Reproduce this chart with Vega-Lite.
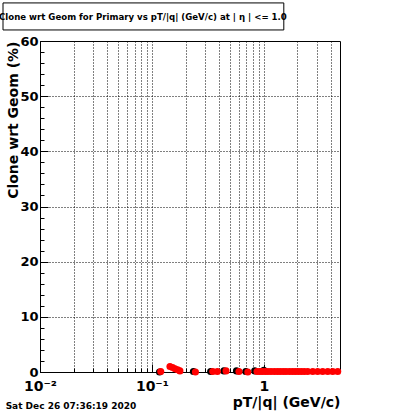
{
  "$schema": "https://vega.github.io/schema/vega-lite/v6.json",
  "width": 300,
  "height": 331,
  "autosize": {"type": "none"},
  "padding": {"left": 40, "top": 41, "right": 60, "bottom": 42},
  "background": "white",
  "config": {
    "view": {"stroke": "black", "strokeWidth": 1},
    "font": "DejaVu Sans",
    "axis": {"domainColor": "black", "tickColor": "black", "labelColor": "black", "titleColor": "black", "labelFont": "DejaVu Sans", "titleFont": "DejaVu Sans"}
  },
  "datasets": {
    "red": [
      {"pt": 0.120, "clone": 0.1},
      {"pt": 0.145, "clone": 1.0},
      {"pt": 0.153, "clone": 0.8},
      {"pt": 0.161, "clone": 0.6},
      {"pt": 0.170, "clone": 0.4},
      {"pt": 0.178, "clone": 0.2},
      {"pt": 0.245, "clone": 0.0},
      {"pt": 0.35, "clone": 0.1},
      {"pt": 0.385, "clone": 0.1},
      {"pt": 0.46, "clone": 0.2},
      {"pt": 0.60, "clone": 0.1},
      {"pt": 0.72, "clone": 0.0},
      {"pt": 0.87, "clone": 0.1},
      {"pt": 0.92, "clone": 0.1},
      {"pt": 0.97, "clone": 0.1},
      {"pt": 1.03, "clone": 0.1},
      {"pt": 1.09, "clone": 0.1},
      {"pt": 1.16, "clone": 0.1},
      {"pt": 1.24, "clone": 0.1},
      {"pt": 1.32, "clone": 0.1},
      {"pt": 1.40, "clone": 0.1},
      {"pt": 1.49, "clone": 0.1},
      {"pt": 1.58, "clone": 0.1},
      {"pt": 1.69, "clone": 0.1},
      {"pt": 1.80, "clone": 0.1},
      {"pt": 1.91, "clone": 0.1},
      {"pt": 2.03, "clone": 0.1},
      {"pt": 2.16, "clone": 0.1},
      {"pt": 2.30, "clone": 0.1},
      {"pt": 2.47, "clone": 0.1},
      {"pt": 2.74, "clone": 0.1},
      {"pt": 3.03, "clone": 0.1},
      {"pt": 3.36, "clone": 0.1},
      {"pt": 3.73, "clone": 0.1},
      {"pt": 4.13, "clone": 0.1},
      {"pt": 4.58, "clone": 0.1}
    ],
    "black": [
      {"pt": 0.117, "clone": 0.0},
      {"pt": 0.235, "clone": 0.1},
      {"pt": 0.335, "clone": 0.1},
      {"pt": 0.44, "clone": 0.2},
      {"pt": 0.57, "clone": 0.2},
      {"pt": 0.69, "clone": 0.1},
      {"pt": 0.83, "clone": 0.2},
      {"pt": 1.0, "clone": 0.3}
    ],
    "stamp": [
      {"label": "Sat Dec 26 07:36:19 2020", "px": 0.00493, "py": -6.2}
    ],
    "heading": [
      {"label": "Clone wrt Geom for Primary vs pT/|q| (GeV/c) at | η | <= 1.0", "px": 0.0831, "py": 64.35}
    ],
    "box": [
      {"x1": 0.00467, "x2": 1.51, "y1": 66.9, "y2": 62.0}
    ]
  },
  "resolve": {"axis": {"x": "independent", "y": "independent"}},
  "layer": [
    {
      "data": {"name": "black"},
      "mark": {"type": "circle", "size": 50, "opacity": 1, "color": "black", "clip": false},
      "encoding": {
        "x": {
          "field": "pt", "type": "quantitative",
          "scale": {"type": "log", "domain": [0.01, 4.8], "nice": false},
          "axis": {
            "orient": "bottom",
            "values": [0.02, 0.03, 0.04, 0.05, 0.06, 0.07, 0.08, 0.09, 0.1, 0.2, 0.3, 0.4, 0.5, 0.6, 0.7, 0.8, 0.9, 1, 2, 3, 4],
            "labels": false, "domain": false, "title": null,
            "grid": true, "gridColor": "black", "gridDash": [1, 2], "gridOpacity": 1, "gridWidth": 1,
            "ticks": true, "tickSize": -4, "tickColor": "black"
          }
        },
        "y": {
          "field": "clone", "type": "quantitative",
          "scale": {"domain": [0, 60], "nice": false},
          "axis": {
            "orient": "left",
            "values": [2, 4, 6, 8, 12, 14, 16, 18, 22, 24, 26, 28, 32, 34, 36, 38, 42, 44, 46, 48, 52, 54, 56, 58],
            "labels": false, "domain": false, "title": null, "grid": false,
            "ticks": true, "tickSize": -4
          }
        }
      }
    },
    {
      "data": {"name": "red"},
      "mark": {"type": "circle", "size": 50, "opacity": 1, "color": "#ff0000", "clip": false},
      "encoding": {
        "x": {
          "field": "pt", "type": "quantitative",
          "axis": {
            "orient": "bottom",
            "values": [0.01, 0.1, 1],
            "labelExpr": "datum.value < 0.05 ? '10⁻²' : datum.value < 0.5 ? '10⁻¹' : '1'",
            "labelFontSize": 14, "labelFontWeight": "bold", "labelPadding": 15,
            "labelFlush": false,
            "grid": false, "ticks": true, "tickSize": -8,
            "domain": true, "domainColor": "black",
            "title": "pT/|q| (GeV/c)", "titleFontSize": 14, "titleFontWeight": "bold",
            "titleAnchor": "end", "titleAlign": "right", "titleBaseline": "alphabetic", "titleY": 34, "titleX": 300
          }
        },
        "y": {
          "field": "clone", "type": "quantitative",
          "axis": {
            "orient": "left",
            "values": [0, 10, 20, 30, 40, 50, 60],
            "labelFontSize": 13, "labelFontWeight": "bold", "labelPadding": 10,
            "labelFlush": false,
            "grid": true, "gridColor": "black", "gridDash": [1, 2], "gridOpacity": 1,
            "ticks": true, "tickSize": -8,
            "domain": true,
            "title": "Clone wrt Geom (%)", "titleFontSize": 14, "titleFontWeight": "bold",
            "titleAnchor": "end", "titleX": -27, "titleY": 0, "titleAlign": "right", "titleBaseline": "middle"
          }
        }
      }
    },
    {
      "data": {"name": "box"},
      "mark": {"type": "rect", "fill": "transparent", "stroke": "black", "strokeWidth": 1, "clip": false},
      "encoding": {
        "x": {"field": "x1", "type": "quantitative", "axis": null},
        "x2": {"field": "x2"},
        "y": {"field": "y1", "type": "quantitative", "axis": null},
        "y2": {"field": "y2"}
      }
    },
    {
      "data": {"name": "heading"},
      "mark": {"type": "text", "align": "center", "baseline": "middle", "font": "DejaVu Sans", "fontSize": 8.6, "fontWeight": "bold", "color": "black", "clip": false},
      "encoding": {
        "x": {"field": "px", "type": "quantitative", "axis": null},
        "y": {"field": "py", "type": "quantitative", "axis": null},
        "text": {"field": "label"}
      }
    },
    {
      "data": {"name": "stamp"},
      "mark": {"type": "text", "align": "left", "baseline": "middle", "font": "DejaVu Sans", "fontSize": 9, "fontWeight": "bold", "color": "black", "clip": false},
      "encoding": {
        "x": {"field": "px", "type": "quantitative", "axis": null},
        "y": {"field": "py", "type": "quantitative", "axis": null},
        "text": {"field": "label"}
      }
    }
  ]
}
